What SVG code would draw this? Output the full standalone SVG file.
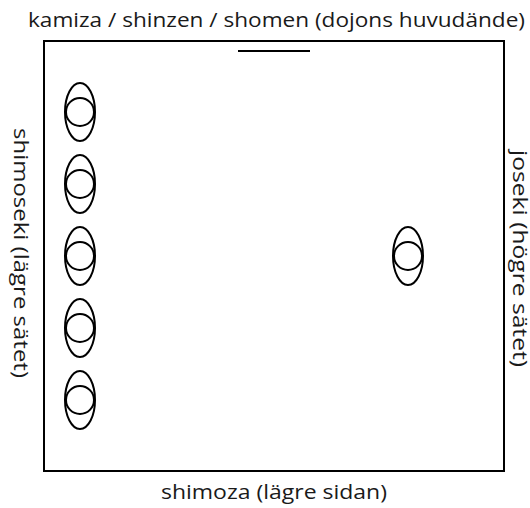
<svg xmlns="http://www.w3.org/2000/svg" width="530" height="508" viewBox="0 0 530 508">
<style>
.ln{fill:none;stroke:#000;stroke-width:2}
.t{font-family:"Open Sans","Noto Sans","Liberation Sans",sans-serif;font-size:20px;fill:#1a1a1a}
</style>
<defs>
<g id="person">
<ellipse class="ln" cx="0" cy="0" rx="15" ry="29"/>
<circle class="ln" cx="0" cy="0" r="14"/>
</g>
</defs>
<rect width="530" height="508" fill="#fff"/>
<g id="dojo">
<rect class="ln" x="44" y="41" width="460" height="430"/>
<line class="ln" x1="238" y1="51" x2="310" y2="51"/>
</g>
<g id="labels">
<text class="t" x="28" y="27" textLength="497" lengthAdjust="spacingAndGlyphs">kamiza / shinzen / shomen (dojons huvudände)</text>
<text class="t" x="161" y="499" textLength="226" lengthAdjust="spacingAndGlyphs">shimoza (lägre sidan)</text>
<text class="t" transform="translate(14,128) rotate(90)" textLength="250" lengthAdjust="spacingAndGlyphs">shimoseki (lägre sätet)</text>
<text class="t" transform="translate(513,150) rotate(90)" textLength="217" lengthAdjust="spacingAndGlyphs">joseki (högre sätet)</text>
</g>
<g id="p1"><use href="#person" x="80" y="112"/></g>
<g id="p2"><use href="#person" x="80" y="184"/></g>
<g id="p3"><use href="#person" x="80" y="256"/></g>
<g id="p4"><use href="#person" x="80" y="328"/></g>
<g id="p5"><use href="#person" x="80" y="400"/></g>
<g id="p6"><use href="#person" x="408" y="256"/></g>
<g id="connectors"/>
</svg>
